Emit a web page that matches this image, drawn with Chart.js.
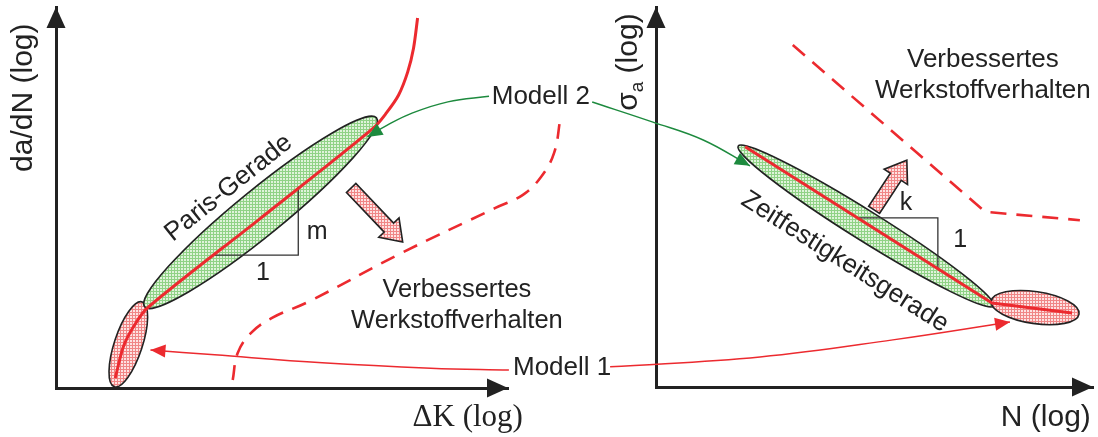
<!DOCTYPE html>
<html><head><meta charset="utf-8">
<script src="https://cdn.jsdelivr.net/npm/chart.js@4/dist/chart.umd.min.js"></script>
<style>
html,body{margin:0;padding:0;background:#fff;}
#wrap{position:relative;width:1098px;height:437px;overflow:hidden;}
canvas{position:absolute;left:0;top:0;}
</style></head><body>
<div id="wrap"><canvas id="left" width="1098" height="437"></canvas><canvas id="right" width="1098" height="437"></canvas></div>
<script>
// ---------- LEFT DIAGRAM: da/dN over ΔK (log-log, arbitrary units 0..10) ----------
const crackCurve = [
  {x:1.31,y:0.26},{x:1.49,y:1.08},{x:1.71,y:1.60},{x:2.02,y:2.10},
  {x:4.53,y:4.46},{x:7.02,y:6.82},{x:7.31,y:7.22},{x:7.58,y:7.69},
  {x:7.78,y:8.29},{x:7.91,y:8.92},{x:8.00,y:9.71}
];
const crackImproved = [
  {x:3.91,y:0.21},{x:4.02,y:0.92},{x:4.31,y:1.44},{x:4.78,y:1.84},
  {x:5.58,y:2.26},{x:7.64,y:3.54},{x:9.71,y:4.72},{x:10.33,y:5.07},
  {x:10.73,y:5.54},{x:11.02,y:6.17},{x:11.16,y:7.09}
];
const model2Left = [{x:9.58,y:7.66},{x:8.67,y:7.51},{x:7.89,y:7.22},{x:7.33,y:6.90},{x:6.89,y:6.59}];
const model1Left = [{x:10.02,y:0.47},{x:8.29,y:0.52},{x:5.89,y:0.66},{x:3.51,y:0.87},{x:2.09,y:1.00}];
const parisSlope = [{x:3.49,y:3.49},{x:5.36,y:3.49},{x:5.36,y:5.28}];
const leftRegions = [ // major-axis end points of the scatter bands
  {kind:'red',   p1:{x:1.91,y:2.26}, p2:{x:1.29,y:0.03}},
  {kind:'green', p1:{x:1.96,y:2.13}, p2:{x:7.09,y:7.09}}
];
const leftShift = {tail:{x:6.53,y:5.25}, head:{x:7.67,y:3.83}};

// ---------- RIGHT DIAGRAM: σa over N (log-log, arbitrary units 0..10) ----------
const snCurve = [{x:2.04,y:6.32},{x:7.69,y:2.21},{x:9.52,y:1.95}];
const snImproved = [{x:3.13,y:9.00},{x:7.53,y:4.61},{x:9.70,y:4.39}];
const model2Right = [{x:-1.46,y:7.50},{x:-0.07,y:6.97},{x:1.08,y:6.50},{x:2.15,y:5.82}];
const model1Right = [{x:-1.05,y:0.53},{x:2.38,y:0.79},{x:5.42,y:1.24},{x:8.10,y:1.71}];
const snSlope = [{x:4.62,y:4.45},{x:6.45,y:4.45},{x:6.45,y:3.08}];
const rightRegions = [
  {kind:'green', p1:{x:1.88,y:6.34}, p2:{x:7.73,y:2.13}},
  {kind:'red',   p1:{x:7.67,y:2.26}, p2:{x:9.68,y:1.92}}
];
const rightShift = {tail:{x:4.99,y:4.66}, head:{x:5.74,y:5.97}};

// ---------- labels ----------
const leftLabels = [
  {t:'da/dN (log)', x:-0.71, y:7.62, rot:-90, size:30},
  {t:'\u0394K (log)', x:9.11, y:-0.79, size:31, serif:true},
  {t:'Paris-Gerade', x:3.82, y:5.25, rot:-38.7, size:26},
  {t:'m', x:5.78, y:4.09, size:25},
  {t:'1', x:4.58, y:3.02, size:25},
  {t:'Verbessertes', x:8.87, y:2.57, size:25.5},
  {t:'Werkstoffverhalten', x:8.87, y:1.76, size:25.5},
  {t:'Modell 2', x:9.64, y:7.64, size:26, align:'left'},
  {t:'Modell 1', x:10.11, y:0.52, size:26, align:'left'}
];
const rightLabels = [
  {t:'N (log)', x:8.92, y:-0.82, size:30},
  {t:'Zeitfestigkeitsgerade', x:4.32, y:3.29, rot:32.5, size:26},
  {t:'k', x:5.72, y:4.84, size:25},
  {t:'1', x:6.96, y:3.87, size:25},
  {t:'Verbessertes', x:7.48, y:8.61, size:26},
  {t:'Werkstoffverhalten', x:7.48, y:7.79, size:26}
];
const sigmaLabel = {x:-0.62, y:8.55, size:30};

const RED = '#ec2a2f', GREEN = '#1d8a3e', INK = '#222';
const SANS = '"Liberation Sans", Arial, sans-serif';
const SERIF = '"Liberation Serif", "Times New Roman", serif';

function hatch(ctx, base, line){
  const c = document.createElement('canvas'); c.width = c.height = 3;
  const g = c.getContext('2d');
  g.fillStyle = base; g.fillRect(0,0,3,3);
  g.fillStyle = line; g.fillRect(0,0,3,1); g.fillRect(0,0,1,3);
  return ctx.createPattern(c, 'repeat');
}
function px(chart, p){ return {x: chart.scales.x.getPixelForValue(p.x), y: chart.scales.y.getPixelForValue(p.y)}; }

const diagram = {
  id: 'diagram',
  beforeDatasetsDraw(chart, args, o){
    const ctx = chart.ctx;
    const fills = {green: hatch(ctx,'#dff3da','#90d286'), red: hatch(ctx,'#fde2e2','#f08686')};
    ctx.save();
    (o.regions||[]).forEach((r,i) => {
      const a = px(chart,r.p1), b = px(chart,r.p2);
      const cx=(a.x+b.x)/2, cy=(a.y+b.y)/2;
      const ang = Math.atan2(b.y-a.y, b.x-a.x);
      const semi = Math.hypot(b.x-a.x, b.y-a.y)/2;
      ctx.beginPath(); ctx.ellipse(cx,cy,semi,o.minor[i],ang,0,Math.PI*2);
      ctx.fillStyle = fills[r.kind]; ctx.fill();
      ctx.lineWidth = 1.6; ctx.strokeStyle = INK; ctx.stroke();
    });
    if (o.slope){
      ctx.beginPath();
      o.slope.forEach((p,i)=>{ const q=px(chart,p); i?ctx.lineTo(q.x,q.y):ctx.moveTo(q.x,q.y); });
      ctx.lineWidth = 1.3; ctx.strokeStyle = '#333'; ctx.stroke();
    }
    ctx.restore();
  },
  afterDatasetsDraw(chart, args, o){
    const ctx = chart.ctx, ca = chart.chartArea;
    ctx.save();
    // axis arrow heads
    ctx.fillStyle = INK;
    ctx.beginPath(); ctx.moveTo(ca.left, ca.top); ctx.lineTo(ca.left-9.5, ca.top+21); ctx.lineTo(ca.left+9.5, ca.top+21); ctx.closePath(); ctx.fill();
    ctx.beginPath(); ctx.moveTo(ca.right, ca.bottom); ctx.lineTo(ca.right-21, ca.bottom-9.5); ctx.lineTo(ca.right-21, ca.bottom+9.5); ctx.closePath(); ctx.fill();
    // arrow heads at ends of model curves
    chart.data.datasets.forEach((ds, di) => {
      if (!ds.arrowEnd) return;
      const pts = chart.getDatasetMeta(di).data;
      const e = pts[pts.length-1], prev = pts[pts.length-2];
      let fx = (e.cp1x!==undefined) ? e.cp1x : prev.x, fy = (e.cp1y!==undefined) ? e.cp1y : prev.y;
      if (Math.hypot(e.x-fx, e.y-fy) < 1){ fx = prev.x; fy = prev.y; }
      const ang = Math.atan2(e.y-fy, e.x-fx);
      const L = 15, W = 6.5;
      ctx.fillStyle = ds.borderColor;
      ctx.beginPath(); ctx.moveTo(e.x, e.y);
      ctx.lineTo(e.x - L*Math.cos(ang) + W*Math.sin(ang), e.y - L*Math.sin(ang) - W*Math.cos(ang));
      ctx.lineTo(e.x - L*Math.cos(ang) - W*Math.sin(ang), e.y - L*Math.sin(ang) + W*Math.cos(ang));
      ctx.closePath(); ctx.fill();
    });
    // block arrow (direction of improved material)
    if (o.shift){
      const t = px(chart,o.shift.tail), h = px(chart,o.shift.head);
      const ang = Math.atan2(h.y-t.y, h.x-t.x), ux=Math.cos(ang), uy=Math.sin(ang), nx=-uy, ny=ux;
      const sw=6.5, hw=14, hl=20;
      const bx=h.x-ux*hl, by=h.y-uy*hl;
      ctx.beginPath();
      ctx.moveTo(t.x+nx*sw, t.y+ny*sw); ctx.lineTo(bx+nx*sw, by+ny*sw); ctx.lineTo(bx+nx*hw, by+ny*hw);
      ctx.lineTo(h.x, h.y); ctx.lineTo(bx-nx*hw, by-ny*hw); ctx.lineTo(bx-nx*sw, by-ny*sw); ctx.lineTo(t.x-nx*sw, t.y-ny*sw);
      ctx.closePath();
      ctx.fillStyle = hatch(ctx,'#fde2e2','#f08686'); ctx.fill();
      ctx.lineWidth = 1.6; ctx.strokeStyle = INK; ctx.stroke();
    }
    // texts
    ctx.fillStyle = INK; ctx.textBaseline = 'middle';
    (o.labels||[]).forEach(l => {
      const p = px(chart,l);
      ctx.save(); ctx.translate(p.x,p.y); if (l.rot) ctx.rotate(l.rot*Math.PI/180);
      ctx.font = l.size+'px '+(l.serif?SERIF:SANS);
      ctx.textAlign = l.align || 'center';
      ctx.fillText(l.t, 0, 0);
      ctx.restore();
    });
    if (o.sigma){
      const s = o.sigma, p = px(chart,s);
      ctx.save(); ctx.translate(p.x,p.y); ctx.rotate(-Math.PI/2);
      const big = s.size+'px '+SANS, small = Math.round(s.size*0.62)+'px '+SANS;
      ctx.font = big; const w1 = ctx.measureText('\u03c3').width, w3 = ctx.measureText(' (log)').width;
      ctx.font = small; const w2 = ctx.measureText('a').width;
      let x0 = -(w1+w2+w3)/2; ctx.textAlign='left';
      ctx.font = big; ctx.fillText('\u03c3', x0, 0);
      ctx.font = small; ctx.fillText('a', x0+w1, s.size*0.28);
      ctx.font = big; ctx.fillText(' (log)', x0+w1+w2, 0);
      ctx.restore();
    }
    ctx.restore();
  }
};

function axes(){
  // range fixed after data limits so that curves running past the axis ends are still drawn
  const common = {type:'linear', grid:{display:false}, ticks:{display:false},
                  border:{display:true, color:INK, width:3},
                  afterDataLimits(s){ s.min = 0; s.max = 10; }};
  return {
    x: Object.assign({}, common, {afterFit(s){ s.height = 0; }}),
    y: Object.assign({}, common, {afterFit(s){ s.width = 0; }})
  };
}
function line(data, color, opts){
  return Object.assign({data, borderColor:color, backgroundColor:color, showLine:true, pointRadius:0,
    borderWidth:3, tension:0.4, clip:false, fill:false}, opts||{});
}

new Chart(document.getElementById('left'), {
  type:'scatter',
  data:{datasets:[
    line(crackImproved, RED, {borderDash:[15,10], borderWidth:2.6}),
    line(crackCurve, RED, {borderWidth:3, tension:0.3}),
    line(model2Left, GREEN, {borderWidth:1.5, arrowEnd:true}),
    line(model1Left, RED, {borderWidth:1.5, arrowEnd:true})
  ]},
  options:{
    responsive:false, animation:false, events:[],
    layout:{padding:{left:56, top:7, right:1098-508, bottom:437-388}},
    scales: axes(),
    plugins:{legend:{display:false}, tooltip:{enabled:false},
      diagram:{regions:leftRegions, minor:[14,23], slope:parisSlope, shift:leftShift, labels:leftLabels}}
  },
  plugins:[diagram]
});

new Chart(document.getElementById('right'), {
  type:'scatter',
  data:{datasets:[
    line(snImproved, RED, {borderDash:[16,10], borderWidth:2.6, tension:0}),
    line(snCurve, RED, {borderWidth:3, tension:0}),
    line(model2Right, GREEN, {borderWidth:1.5, arrowEnd:true}),
    line(model1Right, RED, {borderWidth:1.5, arrowEnd:true})
  ]},
  options:{
    responsive:false, animation:false, events:[],
    layout:{padding:{left:656, top:7, right:1098-1093, bottom:437-387}},
    scales: axes(),
    plugins:{legend:{display:false}, tooltip:{enabled:false},
      diagram:{regions:rightRegions, minor:[15,16], slope:snSlope, shift:rightShift, labels:rightLabels, sigma:sigmaLabel}}
  },
  plugins:[diagram]
});
</script>
</body></html>
